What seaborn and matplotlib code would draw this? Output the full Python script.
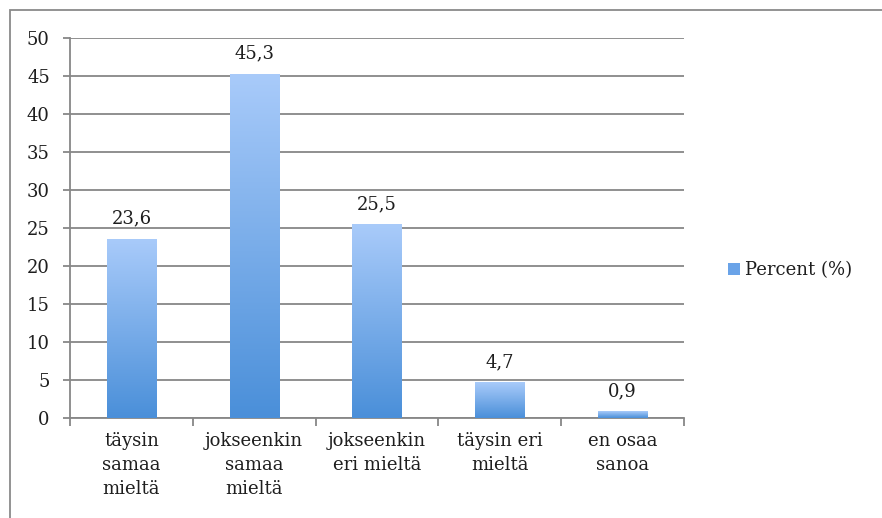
import numpy as np
import pandas as pd
import matplotlib
matplotlib.use("Agg")
import matplotlib.pyplot as plt
import seaborn as sns
from matplotlib.colors import LinearSegmentedColormap
from matplotlib.patches import Rectangle, Patch

categories = ["täysin\nsamaa\nmieltä", "jokseenkin\nsamaa\nmieltä", "jokseenkin\neri mieltä",
              "täysin eri\nmieltä", "en osaa\nsanoa"]
values = [23.6, 45.3, 25.5, 4.7, 0.9]
series_name = "Percent (%)"
yticks = [0, 5, 10, 15, 20, 25, 30, 35, 40, 45, 50]

sns.set_theme(style="white")
plt.rcParams['font.family'] = ['DejaVu Serif']
FS = 13

df = pd.DataFrame({"cat": categories, "val": values})

fig = plt.figure(figsize=(8.82, 5.18), dpi=100)
ax = fig.add_axes([70/882, 1-418/518, (684-70)/882, (418-38)/518])

grid_col = "#878787"
text_col = "#1e1e1e"
sns.barplot(data=df, x="cat", y="val", ax=ax, width=0.4, color="#6aa3e8", saturation=1, zorder=3)

cmap = LinearSegmentedColormap.from_list("g", ["#4a8fd9", "#a9cbfa"])
grad = np.linspace(0, 1, 256).reshape(-1, 1)
for p in ax.patches:
    x0, y0 = p.get_x(), p.get_y()
    w, h = p.get_width(), p.get_height()
    im = ax.imshow(grad, extent=[x0, x0 + w, y0, y0 + h], origin="lower", aspect="auto",
                   cmap=cmap, zorder=4)
    im.set_clip_path(p)
    p.set_edgecolor("none")

for i, v in enumerate(values):
    ax.annotate(f"{v:.1f}".replace(".", ","), xy=(i, v), xytext=(0, 8), textcoords="offset points",
                ha="center", va="bottom", fontsize=FS, color=text_col)

ax.set_xlim(-0.5, 4.5)
ax.set_ylim(0, 50)
ax.set_yticks(yticks)
ax.set_yticklabels([str(t) for t in yticks])
ax.yaxis.grid(True, color=grid_col, linewidth=1.3, zorder=0)
ax.set_axisbelow(True)

ax.set_xticks(np.arange(-0.5, 5, 1))
ax.set_xticklabels([])
ax.set_xticks(range(len(categories)), minor=True)
ax.set_xticklabels(categories, minor=True, linespacing=1.45)
ax.tick_params(axis="x", which="major", length=6, width=1.3, color=grid_col, direction="out", bottom=True)
ax.tick_params(axis="x", which="minor", length=0, pad=10, labelsize=FS, labelcolor=text_col)
ax.tick_params(axis="y", length=5, width=1.3, color=grid_col, direction="out", left=True,
               labelsize=FS, labelcolor=text_col, pad=9.5)
ax.set_xlabel("")
ax.set_ylabel("")
for s in ["top", "right"]:
    ax.spines[s].set_visible(False)
for s in ["left", "bottom"]:
    ax.spines[s].set_color(grid_col)
    ax.spines[s].set_linewidth(1.3)

handle = Patch(facecolor="#6aa3e8", edgecolor="none", label=series_name)
fig.legend(handles=[handle], loc="center left", bbox_to_anchor=(712/882, 1-270/518), frameon=False,
           handlelength=0.65, handleheight=0.65, handletextpad=0.3, fontsize=FS, labelcolor=text_col)

fig.patches.append(Rectangle((10/882, -0.1), 1.2, 1-10/518+0.1, transform=fig.transFigure,
                             fill=False, edgecolor="#8a8a8a", linewidth=1.3))

fig.savefig("out.png", dpi=100)
